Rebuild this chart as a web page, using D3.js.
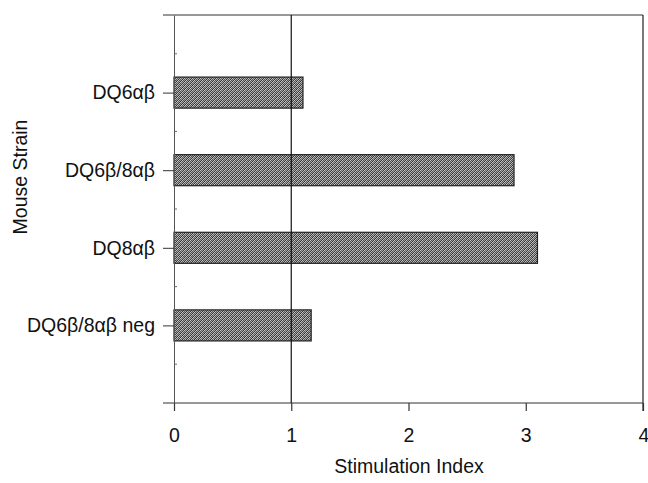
<!DOCTYPE html>
<html>
<head>
<meta charset="utf-8">
<script src="https://cdn.jsdelivr.net/npm/d3@7"></script>
<style>
  body { margin: 0; background: #fff; }
  text { font-family: "Liberation Sans", Arial, sans-serif; fill: #111; }
</style>
</head>
<body>
<div class="canvas"></div>
<script>
// Data
const strains = ["DQ6\u03b1\u03b2", "DQ6\u03b2/8\u03b1\u03b2", "DQ8\u03b1\u03b2", "DQ6\u03b2/8\u03b1\u03b2 neg"]
const stimIndex = [1.10, 2.90, 3.10, 1.17]
const xTicks = [0, 1, 2, 3, 4]

const wWidth = 648
const wHeight = 483
const fontSize = '19.5px'

const svg = d3.select('.canvas')
    .append('svg')
    .attr('width', wWidth)
    .attr('height', wHeight)

// plot box
const margin = {top: 15, right: 5, bottom: 80, left: 174}
const graphWidth = wWidth - margin.left - margin.right
const graphHeight = wHeight - margin.top - margin.bottom

// halftone-ish pattern for the bars (4x4 cell of dark / light pixels)
const cells = [
  '#333', '#bbb', '#555', '#aaa',
  '#ccc', '#444', '#999', '#3a3a3a',
  '#505050', '#b0b0b0', '#2e2e2e', '#c4c4c4',
  '#a0a0a0', '#3c3c3c', '#bdbdbd', '#666'
]
const pat = svg.append('defs').append('pattern')
    .attr('id', 'dots')
    .attr('width', 4)
    .attr('height', 4)
    .attr('patternUnits', 'userSpaceOnUse')
pat.selectAll('rect')
    .data(cells)
    .enter()
    .append('rect')
    .attr('x', (d, i) => i % 4)
    .attr('y', (d, i) => Math.floor(i / 4))
    .attr('width', 1)
    .attr('height', 1)
    .attr('fill', d => d)

const graph = svg.append('g')
    .attr('transform', `translate(${margin.left}, ${margin.top})`)

const xScale = d3.scaleLinear()
    .domain([0, 4])
    .range([0, graphWidth])

// categories sit at 1..4 on a 0..5 scale
const yScale = d3.scaleLinear()
    .domain([0, strains.length + 1])
    .range([0, graphHeight])

const barH = yScale(0.4) - yScale(0)

// frame: top and right lines
graph.append('line')
    .attr('x1', -11).attr('x2', graphWidth)
    .attr('y1', 0).attr('y2', 0)
    .attr('stroke', '#333').attr('stroke-width', 1.2)
graph.append('line')
    .attr('x1', graphWidth).attr('x2', graphWidth)
    .attr('y1', 0).attr('y2', graphHeight + 8)
    .attr('stroke', '#222').attr('stroke-width', 1.2)

// bars
graph.selectAll('rect.bar')
    .data(stimIndex)
    .enter()
    .append('rect')
    .attr('class', 'bar')
    .attr('x', xScale(0))
    .attr('y', (d, i) => yScale(i + 1) - barH / 2)
    .attr('width', d => xScale(d) - xScale(0))
    .attr('height', barH)
    .attr('fill', 'url(#dots)')
    .attr('stroke', '#222')
    .attr('stroke-width', 1.2)

// reference line at SI = 1
graph.append('line')
    .attr('x1', xScale(1)).attr('x2', xScale(1))
    .attr('y1', 0).attr('y2', graphHeight)
    .attr('stroke', '#111').attr('stroke-width', 1.2)

// x axis
const xAxis = d3.axisBottom(xScale)
    .tickValues(xTicks)
    .tickFormat(d3.format('d'))
    .tickSize(8)
    .tickSizeOuter(0)
    .tickPadding(17)
const xAxisGroup = graph.append('g')
    .attr('transform', `translate(0, ${graphHeight})`)
    .call(xAxis)
xAxisGroup.select('.domain')
    .attr('d', `M-11,0H${graphWidth}`)
    .attr('stroke', '#333').attr('stroke-width', 1.2)
xAxisGroup.selectAll('.tick line').attr('stroke', '#333').attr('stroke-width', 1.2)
xAxisGroup.selectAll('.tick text')
    .style('font-size', fontSize)
    .style('font-family', '"Liberation Sans", Arial, sans-serif')
    .attr('fill', '#111')
// the last label is pulled in so it is not cut at the right edge
xAxisGroup.selectAll('.tick text')
    .filter(d => d === 4)
    .attr('text-anchor', 'end')
    .attr('dx', '0.3em')

// y axis
const yAxis = d3.axisLeft(yScale)
    .tickValues(d3.range(1, strains.length + 1))
    .tickFormat(d => strains[d - 1])
    .tickSize(11)
    .tickSizeOuter(0)
    .tickPadding(8)
const yAxisGroup = graph.append('g').call(yAxis)
yAxisGroup.select('.domain').attr('stroke', '#555').attr('stroke-width', 1)
yAxisGroup.selectAll('.tick line').attr('stroke', '#333')
yAxisGroup.selectAll('.tick text')
    .style('font-size', fontSize)
    .style('font-family', '"Liberation Sans", Arial, sans-serif')
    .attr('fill', '#111')

// small inner ticks between categories
graph.selectAll('line.minor')
    .data(d3.range(0.5, strains.length + 1, 1))
    .enter()
    .append('line')
    .attr('class', 'minor')
    .attr('x1', 0).attr('x2', 3)
    .attr('y1', d => yScale(d)).attr('y2', d => yScale(d))
    .attr('stroke', '#666')

// axis titles
svg.append('text')
    .attr('x', 409)
    .attr('y', 473)
    .style('text-anchor', 'middle')
    .style('font-size', fontSize)
    .text('Stimulation Index')

svg.append('text')
    .attr('transform', 'translate(27, 177) rotate(-90)')
    .style('text-anchor', 'middle')
    .style('font-size', fontSize)
    .text('Mouse Strain')
</script>
</body>
</html>
